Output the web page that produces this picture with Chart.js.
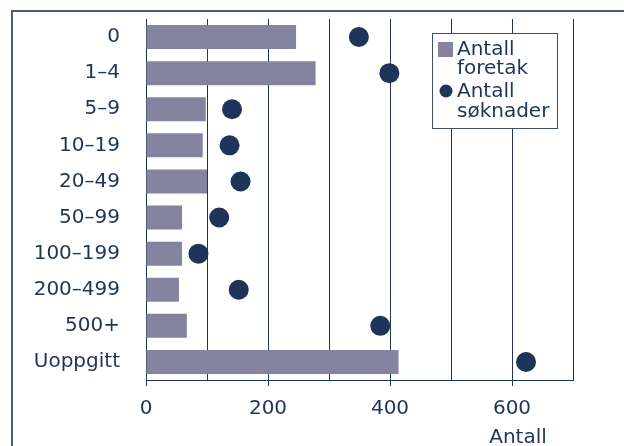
<!DOCTYPE html>
<html><head><meta charset="utf-8">
<script src="https://cdn.jsdelivr.net/npm/chart.js@4"></script>
<style>html,body{margin:0;padding:0;background:#fff;}#wrap{width:624px;height:446px;position:relative;overflow:hidden;}</style>
</head><body><div id="wrap"><canvas id="c" width="624" height="446"></canvas></div>
<script>
const categories = ['0','1–4','5–9','10–19','20–49','50–99','100–199','200–499','500+','Uoppgitt'];
const foretak = [246,278,98,93,100,59,59,54,67,414];
const soknader = [349,399,141,137,155,120,86,152,384,623];
const xTickLabels = [0,200,400,600];
const seriesNames = [['Antall','foretak'],['Antall','søknader']];
const axisTitle = 'Antall';

const NAVY = '#1f3459';
const BAR = '#8584a0';
const FONT = '"DejaVu Sans", Verdana, sans-serif';
const FS = 20;

const decor = {
  id:'decor',
  beforeDraw(chart){
    const ctx = chart.ctx;
    ctx.save();
    ctx.strokeStyle = '#4a5c7c';
    ctx.lineWidth = 2;
    ctx.strokeRect(12, 11, 800, 600);
    ctx.restore();
  },
  afterDatasetsDraw(chart){
    const ctx = chart.ctx;
    ctx.save();
    ctx.fillStyle = '#fff';
    ctx.fillRect(432, 33, 125, 95);
    ctx.strokeStyle = '#3e4f6e';
    ctx.lineWidth = 1;
    ctx.strokeRect(432.5, 33.5, 125, 95);
    ctx.fillStyle = BAR;
    ctx.fillRect(438, 42, 15, 15);
    ctx.fillStyle = NAVY;
    ctx.beginPath(); ctx.arc(446, 91, 6.5, 0, Math.PI*2); ctx.fill();
    ctx.font = FS + 'px ' + FONT;
    ctx.textBaseline = 'middle';
    ctx.textAlign = 'left';
    ctx.fillStyle = NAVY;
    const ys = [[50,69],[92,112]];
    seriesNames.forEach((lines,i)=>lines.forEach((t,j)=>ctx.fillText(t, 457, ys[i][j])));
    ctx.textAlign = 'center';
    ctx.textBaseline = 'top';
    ctx.fillText(axisTitle, 518, 428);
    ctx.restore();
  }
};

new Chart(document.getElementById('c'), {
  data: {
    labels: categories,
    datasets: [
      {type:'line', label: seriesNames[1].join(' '), data: soknader, indexAxis:'y', showLine:false,
       pointRadius:10, pointHoverRadius:10, pointStyle:'circle', backgroundColor:NAVY, borderColor:NAVY, borderWidth:0, order:0},
      {type:'bar', label: seriesNames[0].join(' '), data: foretak, indexAxis:'y', backgroundColor:BAR,
       barPercentage:0.665, categoryPercentage:1, order:1}
    ]
  },
  options: {
    indexAxis:'y',
    responsive:false,
    devicePixelRatio:1,
    animation:false,
    layout:{padding:{top:19,right:51,left:0,bottom:0}},
    plugins:{legend:{display:false}, tooltip:{enabled:false}},
    scales:{
      x:{type:'linear', position:'bottom', min:0, max:700,
         ticks:{stepSize:100, autoSkip:false, color:NAVY, font:{family:FONT,size:FS}, padding:11,
                callback:(v)=> xTickLabels.includes(v) ? String(v) : ''},
         grid:{color:NAVY, lineWidth:1, tickLength:6,
               tickColor:(c)=> (c.tick && xTickLabels.includes(c.tick.value)) ? NAVY : 'rgba(0,0,0,0)'},
         border:{display:true, color:NAVY, width:1},
         afterFit:(s)=>{ s.height = 66; s.paddingLeft = 0; s.paddingRight = 0; }
      },
      y:{type:'category', position:'left',
         ticks:{color:NAVY, font:{family:FONT,size:FS}, padding:26},
         grid:{display:false, drawTicks:false},
         border:{display:true, color:NAVY, width:1},
         afterFit:(s)=>{ s.width = 146; s.paddingTop = 0; s.paddingBottom = 0; }
      }
    }
  },
  plugins:[decor]
});
</script></body></html>
